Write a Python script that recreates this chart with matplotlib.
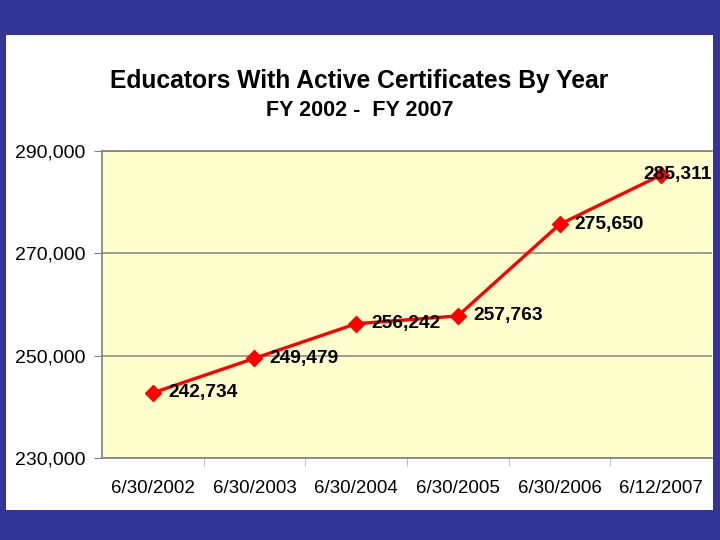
import matplotlib.pyplot as plt
from matplotlib.patches import Rectangle
from matplotlib.ticker import FuncFormatter, FixedLocator

dates = ["6/30/2002", "6/30/2003", "6/30/2004", "6/30/2005", "6/30/2006", "6/12/2007"]
educators = [242734, 249479, 256242, 257763, 275650, 285311]
y_ticks = [230000, 250000, 270000, 290000]

plt.rcParams["font.family"] = ["Liberation Sans", "DejaVu Sans"]

W, H = 720, 540
fig = plt.figure(figsize=(7.2, 5.4), dpi=100, facecolor="#343497")

# white slide panel, behind the axes
fig.patches.append(Rectangle((6 / W, 1 - 510 / H), 707 / W, 475 / H,
                             transform=fig.transFigure, facecolor="white",
                             edgecolor="none", zorder=-5))

ax = fig.add_axes([102 / W, 1 - 458 / H, 610 / W, 307 / H])
ax.set_zorder(1)
ax.set_facecolor("#FFFFCC")

x = list(range(len(dates)))
ax.plot(x, educators, color="#FF0000", linewidth=2.4, marker="D",
        markersize=8.5, markerfacecolor="#FF0000", markeredgecolor="#FF0000", zorder=3)

for i, v in enumerate(educators):
    dx = 11 if i < len(educators) - 1 else -13
    ax.annotate(f"{v:,}", (i, v), xytext=(dx, 0), textcoords="offset points",
                ha="left", va="center", fontsize=13.8, fontweight="bold",
                color="black", zorder=4)

ax.set_xlim(-0.5, len(dates) - 0.5)
ax.set_ylim(230000, 290000)
ax.set_yticks(y_ticks)
ax.yaxis.set_major_formatter(FuncFormatter(lambda v, p: f"{int(v):,}"))
ax.tick_params(axis="y", labelsize=14, length=6, color="#808080", pad=6)
ax.yaxis.grid(True, color="#8C8C8C", linewidth=1.2)
ax.set_axisbelow(True)

ax.set_xticks(x)
ax.set_xticklabels(dates)
ax.tick_params(axis="x", which="major", length=0, labelsize=13.5, pad=16)
ax.xaxis.set_minor_locator(FixedLocator([i + 0.5 for i in range(len(dates) - 1)]))
ax.tick_params(axis="x", which="minor", length=6, color="#B0B0B0")

for side in ["left", "top", "bottom"]:
    ax.spines[side].set_color("#808080")
    ax.spines[side].set_linewidth(1.2)
ax.spines["right"].set_visible(False)

fig.text(0.5 * (6 + 713) / W, 1 - 81 / H, "Educators With Active Certificates By Year",
         ha="center", va="center", fontsize=17.7, fontweight="bold")
fig.text(0.5 * (6 + 713) / W, 1 - 110 / H, "FY 2002 -  FY 2007",
         ha="center", va="center", fontsize=15.5, fontweight="bold")

fig.savefig("out.png", dpi=100, facecolor=fig.get_facecolor())
